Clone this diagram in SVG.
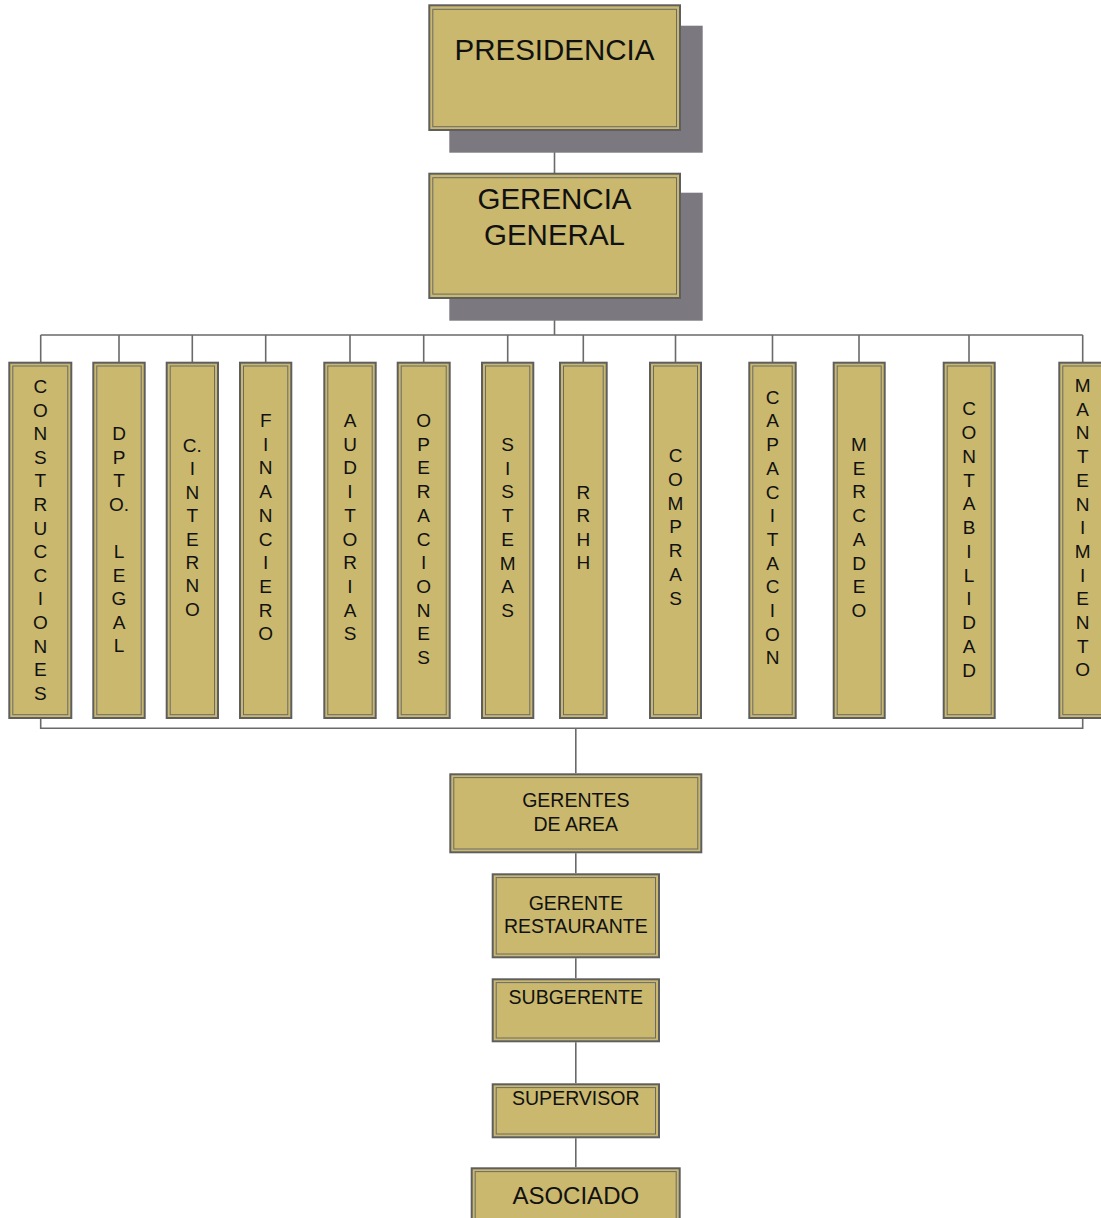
<svg xmlns="http://www.w3.org/2000/svg" width="1101" height="1218" viewBox="0 0 1101 1218">
<style>
.bx{fill:#C9B86E;stroke:#5E5E5E;stroke-width:2}
.in{fill:none;stroke:#6A6A6A;stroke-width:1}
.sh{fill:#7B797F}
.ln{fill:none;stroke:#6A6A6A;stroke-width:1.6}
text{font-family:"Liberation Sans",Arial,sans-serif;fill:#111;text-anchor:middle}
.t30{font-size:29.5px}
.t19{font-size:19.5px}
.t24{font-size:24px}
.v{font-size:19px}
</style>
<rect width="1101" height="1218" fill="#fff"/>
<g id="connectors">
<path class="ln" d="M554.5 131V173M554.5 299V335M40.7 335H1082.7M40.7 335V362M119 335V362M192.3 335V362M265.7 335V362M350 335V362M423.7 335V362M507.7 335V362M583.3 335V362M675.5 335V362M772.5 335V362M859 335V362M969 335V362M1082.7 335V362"/>
<path class="ln" d="M40.7 719V728.3H1082.7V719M575.8 728.3V773.3M575.8 853.3V873.3M575.8 958.3V978.3M575.8 1042.3V1083.3M575.8 1138.3V1167.3"/>
</g>
<g id="presidencia">
<rect class="sh" x="449.3" y="25.7" width="253.4" height="127"/>
<rect class="bx" x="429.3" y="5.3" width="250.7" height="124.7"/>
<rect class="in" x="432.8" y="9.3" width="243.7" height="117.4"/>
<text class="t30" x="554.5" y="59.5">PRESIDENCIA</text>
</g>
<g id="gerencia-general">
<rect class="sh" x="449.3" y="192.7" width="253.4" height="128"/>
<rect class="bx" x="429.3" y="173.7" width="250.7" height="124.3"/>
<rect class="in" x="432.8" y="177.7" width="243.7" height="116.4"/>
<text class="t30" x="554.5" y="209">GERENCIA</text>
<text class="t30" x="554.5" y="245">GENERAL</text>
</g>
<g id="construcciones">
<rect class="bx" x="9.3" y="362.7" width="62" height="355.3"/><rect class="in" x="12.8" y="366" width="55" height="348.7"/>
<text class="v" y="393"><tspan x="40.3">C</tspan><tspan x="40.3" dy="23.6">O</tspan><tspan x="40.3" dy="23.6">N</tspan><tspan x="40.3" dy="23.6">S</tspan><tspan x="40.3" dy="23.6">T</tspan><tspan x="40.3" dy="23.6">R</tspan><tspan x="40.3" dy="23.6">U</tspan><tspan x="40.3" dy="23.6">C</tspan><tspan x="40.3" dy="23.6">C</tspan><tspan x="40.3" dy="23.6">I</tspan><tspan x="40.3" dy="23.6">O</tspan><tspan x="40.3" dy="23.6">N</tspan><tspan x="40.3" dy="23.6">E</tspan><tspan x="40.3" dy="23.6">S</tspan></text>
</g>
<g id="dpto-legal">
<rect class="bx" x="93.3" y="362.7" width="51.4" height="355.3"/><rect class="in" x="96.8" y="366" width="44.4" height="348.7"/>
<text class="v" y="440"><tspan x="119">D</tspan><tspan x="119" dy="23.6">P</tspan><tspan x="119" dy="23.6">T</tspan><tspan x="119" dy="23.6">O.</tspan><tspan x="119" dy="47.2">L</tspan><tspan x="119" dy="23.6">E</tspan><tspan x="119" dy="23.6">G</tspan><tspan x="119" dy="23.6">A</tspan><tspan x="119" dy="23.6">L</tspan></text>
</g>
<g id="c-interno">
<rect class="bx" x="166.7" y="362.7" width="51.3" height="355.3"/><rect class="in" x="170.2" y="366" width="44.3" height="348.7"/>
<text class="v" y="452"><tspan x="192.3">C.</tspan><tspan x="192.3" dy="23.4">I</tspan><tspan x="192.3" dy="23.4">N</tspan><tspan x="192.3" dy="23.4">T</tspan><tspan x="192.3" dy="23.4">E</tspan><tspan x="192.3" dy="23.4">R</tspan><tspan x="192.3" dy="23.4">N</tspan><tspan x="192.3" dy="23.4">O</tspan></text>
</g>
<g id="financiero">
<rect class="bx" x="240" y="362.7" width="51.3" height="355.3"/><rect class="in" x="243.5" y="366" width="44.3" height="348.7"/>
<text class="v" y="427"><tspan x="265.7">F</tspan><tspan x="265.7" dy="23.7">I</tspan><tspan x="265.7" dy="23.7">N</tspan><tspan x="265.7" dy="23.7">A</tspan><tspan x="265.7" dy="23.7">N</tspan><tspan x="265.7" dy="23.7">C</tspan><tspan x="265.7" dy="23.7">I</tspan><tspan x="265.7" dy="23.7">E</tspan><tspan x="265.7" dy="23.7">R</tspan><tspan x="265.7" dy="23.7">O</tspan></text>
</g>
<g id="auditorias">
<rect class="bx" x="324.3" y="362.7" width="51.4" height="355.3"/><rect class="in" x="327.8" y="366" width="44.4" height="348.7"/>
<text class="v" y="427"><tspan x="350">A</tspan><tspan x="350" dy="23.7">U</tspan><tspan x="350" dy="23.7">D</tspan><tspan x="350" dy="23.7">I</tspan><tspan x="350" dy="23.7">T</tspan><tspan x="350" dy="23.7">O</tspan><tspan x="350" dy="23.7">R</tspan><tspan x="350" dy="23.7">I</tspan><tspan x="350" dy="23.7">A</tspan><tspan x="350" dy="23.7">S</tspan></text>
</g>
<g id="operaciones">
<rect class="bx" x="397.7" y="362.7" width="52" height="355.3"/><rect class="in" x="401.2" y="366" width="45" height="348.7"/>
<text class="v" y="427"><tspan x="423.7">O</tspan><tspan x="423.7" dy="23.7">P</tspan><tspan x="423.7" dy="23.7">E</tspan><tspan x="423.7" dy="23.7">R</tspan><tspan x="423.7" dy="23.7">A</tspan><tspan x="423.7" dy="23.7">C</tspan><tspan x="423.7" dy="23.7">I</tspan><tspan x="423.7" dy="23.7">O</tspan><tspan x="423.7" dy="23.7">N</tspan><tspan x="423.7" dy="23.7">E</tspan><tspan x="423.7" dy="23.7">S</tspan></text>
</g>
<g id="sistemas">
<rect class="bx" x="482" y="362.7" width="51.3" height="355.3"/><rect class="in" x="485.5" y="366" width="44.3" height="348.7"/>
<text class="v" y="451"><tspan x="507.7">S</tspan><tspan x="507.7" dy="23.7">I</tspan><tspan x="507.7" dy="23.7">S</tspan><tspan x="507.7" dy="23.7">T</tspan><tspan x="507.7" dy="23.7">E</tspan><tspan x="507.7" dy="23.7">M</tspan><tspan x="507.7" dy="23.7">A</tspan><tspan x="507.7" dy="23.7">S</tspan></text>
</g>
<g id="rrhh">
<rect class="bx" x="560" y="362.7" width="46.7" height="355.3"/><rect class="in" x="563.5" y="366" width="39.7" height="348.7"/>
<text class="v" y="498.7"><tspan x="583.3">R</tspan><tspan x="583.3" dy="23.5">R</tspan><tspan x="583.3" dy="23.5">H</tspan><tspan x="583.3" dy="23.5">H</tspan></text>
</g>
<g id="compras">
<rect class="bx" x="650" y="362.7" width="51" height="355.3"/><rect class="in" x="653.5" y="366" width="44" height="348.7"/>
<text class="v" y="462"><tspan x="675.5">C</tspan><tspan x="675.5" dy="23.8">O</tspan><tspan x="675.5" dy="23.8">M</tspan><tspan x="675.5" dy="23.8">P</tspan><tspan x="675.5" dy="23.8">R</tspan><tspan x="675.5" dy="23.8">A</tspan><tspan x="675.5" dy="23.8">S</tspan></text>
</g>
<g id="capacitacion">
<rect class="bx" x="749.3" y="362.7" width="46.4" height="355.3"/><rect class="in" x="752.8" y="366" width="39.4" height="348.7"/>
<text class="v" y="403.7"><tspan x="772.5">C</tspan><tspan x="772.5" dy="23.7">A</tspan><tspan x="772.5" dy="23.7">P</tspan><tspan x="772.5" dy="23.7">A</tspan><tspan x="772.5" dy="23.7">C</tspan><tspan x="772.5" dy="23.7">I</tspan><tspan x="772.5" dy="23.7">T</tspan><tspan x="772.5" dy="23.7">A</tspan><tspan x="772.5" dy="23.7">C</tspan><tspan x="772.5" dy="23.7">I</tspan><tspan x="772.5" dy="23.7">O</tspan><tspan x="772.5" dy="23.7">N</tspan></text>
</g>
<g id="mercadeo">
<rect class="bx" x="833.7" y="362.7" width="51" height="355.3"/><rect class="in" x="837.2" y="366" width="44" height="348.7"/>
<text class="v" y="451"><tspan x="859">M</tspan><tspan x="859" dy="23.7">E</tspan><tspan x="859" dy="23.7">R</tspan><tspan x="859" dy="23.7">C</tspan><tspan x="859" dy="23.7">A</tspan><tspan x="859" dy="23.7">D</tspan><tspan x="859" dy="23.7">E</tspan><tspan x="859" dy="23.7">O</tspan></text>
</g>
<g id="contabilidad">
<rect class="bx" x="943.7" y="362.7" width="51" height="355.3"/><rect class="in" x="947.2" y="366" width="44" height="348.7"/>
<text class="v" y="415.3"><tspan x="969">C</tspan><tspan x="969" dy="23.76">O</tspan><tspan x="969" dy="23.76">N</tspan><tspan x="969" dy="23.76">T</tspan><tspan x="969" dy="23.76">A</tspan><tspan x="969" dy="23.76">B</tspan><tspan x="969" dy="23.76">I</tspan><tspan x="969" dy="23.76">L</tspan><tspan x="969" dy="23.76">I</tspan><tspan x="969" dy="23.76">D</tspan><tspan x="969" dy="23.76">A</tspan><tspan x="969" dy="23.76">D</tspan></text>
</g>
<g id="mantenimiento">
<rect class="bx" x="1059.3" y="362.7" width="46.7" height="355.3"/><rect class="in" x="1062.8" y="366" width="39.7" height="348.7"/>
<text class="v" y="392"><tspan x="1082.7">M</tspan><tspan x="1082.7" dy="23.7">A</tspan><tspan x="1082.7" dy="23.7">N</tspan><tspan x="1082.7" dy="23.7">T</tspan><tspan x="1082.7" dy="23.7">E</tspan><tspan x="1082.7" dy="23.7">N</tspan><tspan x="1082.7" dy="23.7">I</tspan><tspan x="1082.7" dy="23.7">M</tspan><tspan x="1082.7" dy="23.7">I</tspan><tspan x="1082.7" dy="23.7">E</tspan><tspan x="1082.7" dy="23.7">N</tspan><tspan x="1082.7" dy="23.7">T</tspan><tspan x="1082.7" dy="23.7">O</tspan></text>
</g>
<g id="gerentes-de-area">
<rect class="bx" x="450.3" y="774.3" width="251" height="78"/><rect class="in" x="453.8" y="777.6" width="244" height="71.4"/>
<text class="t19" x="575.8" y="806.7">GERENTES</text>
<text class="t19" x="575.8" y="830.7">DE AREA</text>
</g>
<g id="gerente-restaurante">
<rect class="bx" x="492.7" y="874.3" width="166.3" height="83"/><rect class="in" x="496.2" y="877.6" width="159.3" height="76.4"/>
<text class="t19" x="575.8" y="910">GERENTE</text>
<text class="t19" x="575.8" y="932.7">RESTAURANTE</text>
</g>
<g id="subgerente">
<rect class="bx" x="492.7" y="979.3" width="166.3" height="62"/><rect class="in" x="496.2" y="982.6" width="159.3" height="55.4"/>
<text class="t19" x="575.8" y="1004">SUBGERENTE</text>
</g>
<g id="supervisor">
<rect class="bx" x="492.7" y="1084.3" width="166.3" height="53"/><rect class="in" x="496.2" y="1087.6" width="159.3" height="46.4"/>
<text class="t19" x="575.8" y="1105">SUPERVISOR</text>
</g>
<g id="asociado">
<rect class="bx" x="471.7" y="1168.3" width="208" height="60"/><rect class="in" x="475.2" y="1171.6" width="201" height="60"/>
<text class="t24" x="575.8" y="1204.3">ASOCIADO</text>
</g>
</svg>
